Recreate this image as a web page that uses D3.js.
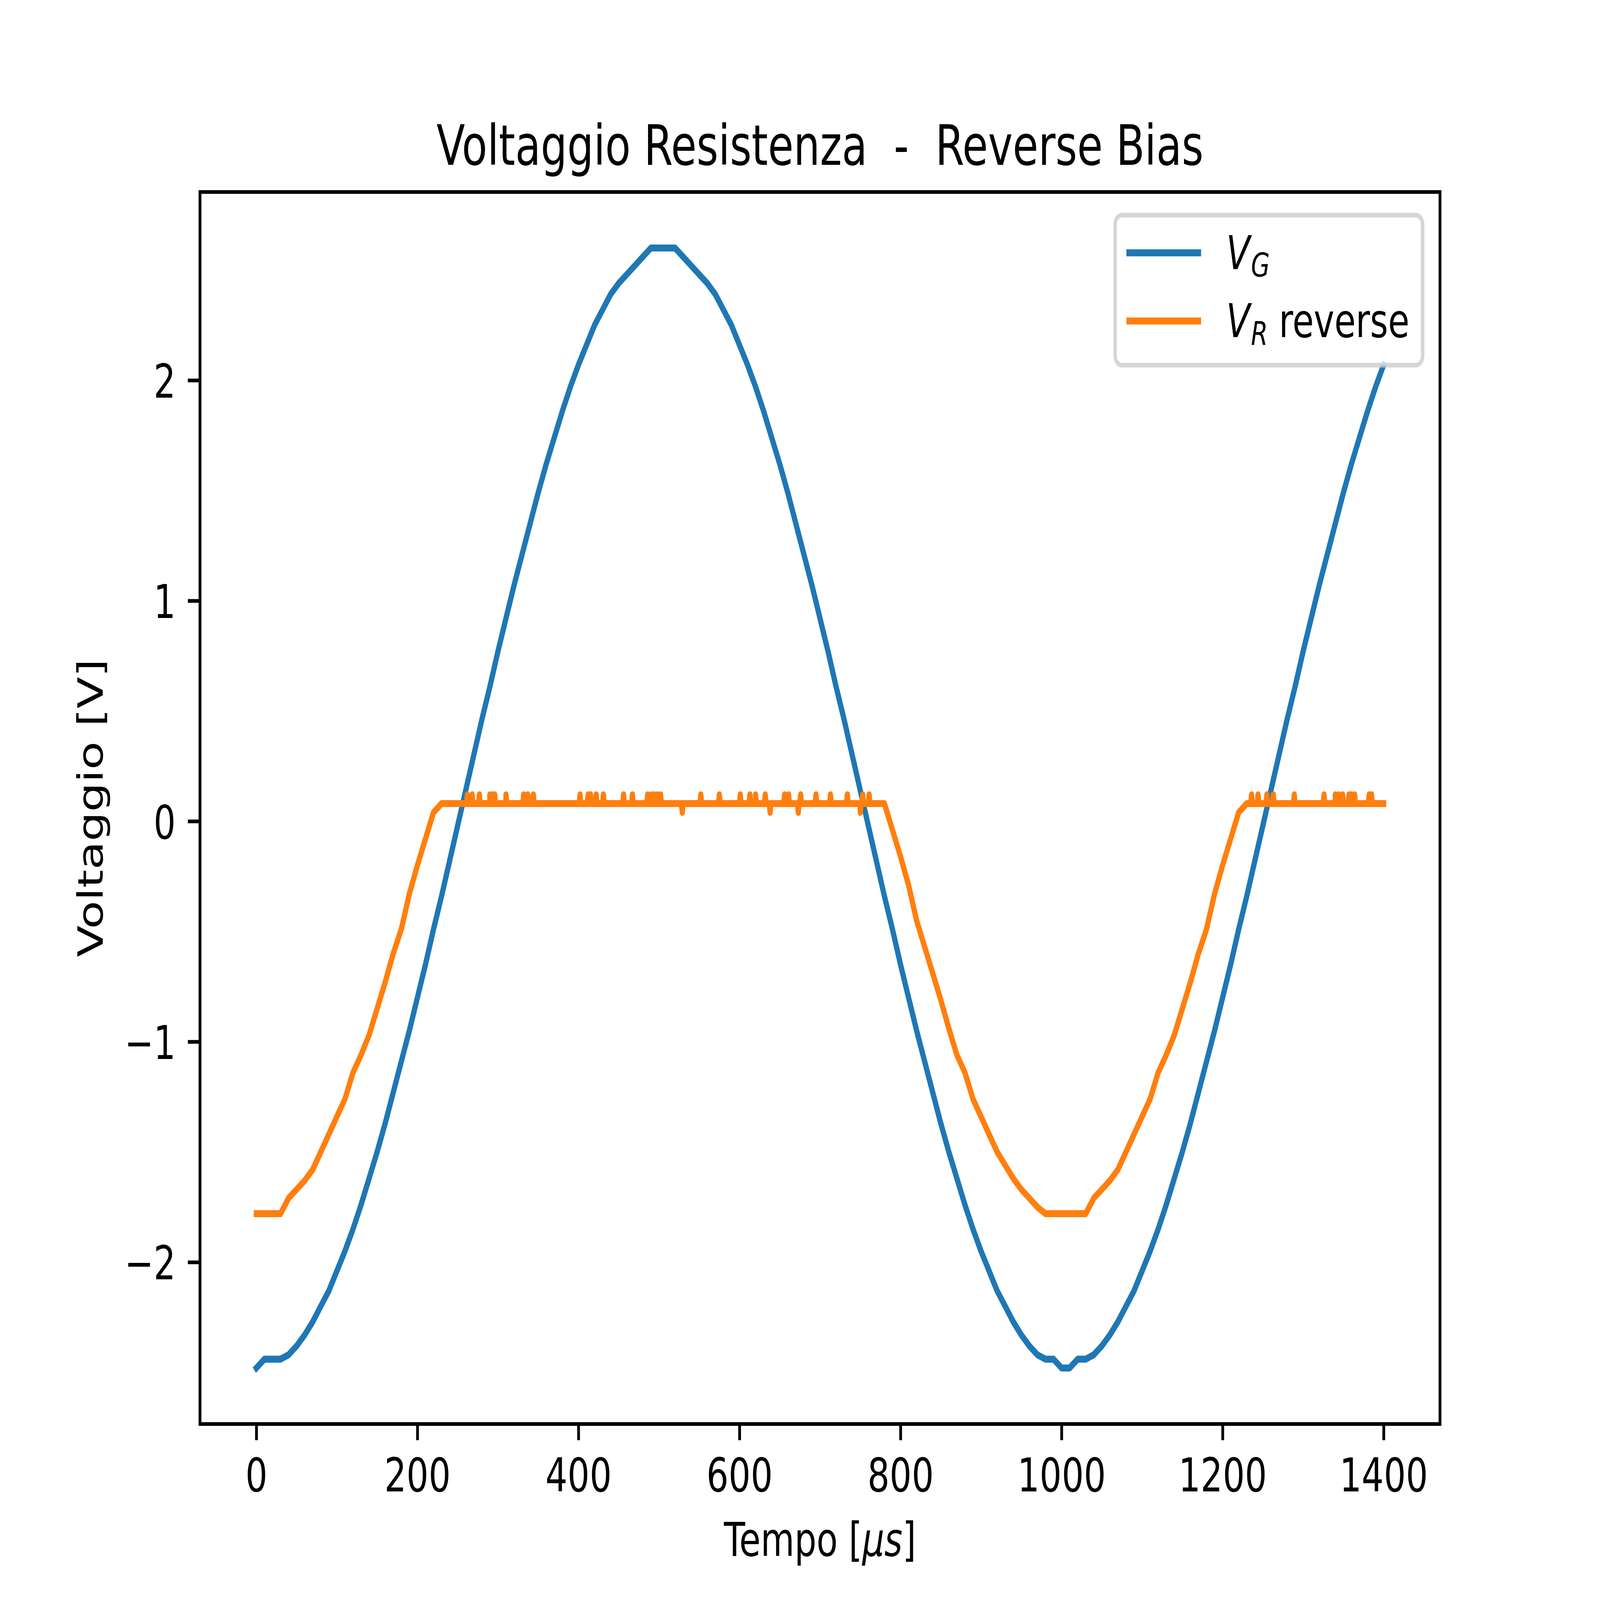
<!DOCTYPE html>
<html>
<head>
<meta charset="utf-8">
<script src="https://cdn.jsdelivr.net/npm/d3@7"></script>
<style>
  html, body { margin: 0; padding: 0; background: #fff; width: 100%; height: 100%; overflow: hidden; }
  #chart { display: block; width: 100vw; height: 100vh; }
  text { font-family: "DejaVu Sans"; white-space: pre; }
</style>
</head>
<body>
<svg id="chart"></svg>
<script>
// tempo in microseconds, one reading every 10 us
let tempo = [0,10,20,30,40,50,60,70,80,90,100,110,120,130,140,150,160,170,180,190,
  200,210,220,230,240,250,260,270,280,290,300,310,320,330,340,350,360,370,380,390,
  400,410,420,430,440,450,460,470,480,490,500,510,520,530,540,550,560,570,580,590,
  600,610,620,630,640,650,660,670,680,690,700,710,720,730,740,750,760,770,780,790,
  800,810,820,830,840,850,860,870,880,890,900,910,920,930,940,950,960,970,980,990,
  1000,1010,1020,1030,1040,1050,1060,1070,1080,1090,1100,1110,1120,1130,1140,1150,1160,1170,1180,1190,
  1200,1210,1220,1230,1240,1250,1260,1270,1280,1290,1300,1310,1320,1330,1340,1350,1360,1370,1380,1390,1400];

// V_G
let voltG = [-2.48,-2.44,-2.44,-2.44,-2.42,-2.38,-2.33,-2.27,-2.20,-2.13,-2.04,-1.95,-1.85,
  -1.74,-1.62,-1.50,-1.37,-1.23,-1.09,-0.95,-0.80,-0.65,-0.49,-0.34,-0.18,-0.02,
  0.14,0.30,0.46,0.61,0.77,0.92,1.07,1.21,1.35,1.49,1.62,1.74,1.86,
  1.97,2.07,2.16,2.25,2.32,2.39,2.44,2.48,2.52,2.56,2.60,2.60,2.60,2.60,
  2.56,2.52,2.48,2.44,2.39,2.32,2.25,2.16,2.07,1.97,1.86,1.74,1.62,
  1.49,1.35,1.21,1.07,0.92,0.77,0.61,0.46,0.30,0.14,-0.02,-0.18,-0.34,
  -0.49,-0.65,-0.80,-0.95,-1.09,-1.23,-1.37,-1.50,-1.62,-1.74,-1.85,-1.95,-2.04,
  -2.13,-2.20,-2.27,-2.33,-2.38,-2.42,-2.44,-2.44,-2.48,-2.48,-2.44,-2.44,
  -2.42,-2.38,-2.33,-2.27,-2.20,-2.13,-2.04,-1.95,-1.85,-1.74,-1.62,-1.50,-1.37,
  -1.23,-1.09,-0.95,-0.80,-0.65,-0.49,-0.34,-0.18,-0.02,0.14,0.30,0.46,0.61,
  0.77,0.92,1.07,1.21,1.35,1.49,1.62,1.74,1.86,1.97,2.07];

// V_R reverse
let voltR = [-1.78,-1.78,-1.78,-1.78,
  -1.71,-1.67,-1.63,-1.58,-1.50,-1.42,-1.34,-1.26,-1.14,-1.06,-0.97,-0.85,-0.73,-0.60,-0.49,-0.33,-0.20,-0.08,0.04,
  0.08,0.08,0.08,0.08,0.08,0.08,0.08,0.08,0.08,0.08,0.08,0.08,0.08,0.08,0.08,0.08,0.08,0.08,0.08,0.08,
  0.08,0.08,0.08,0.08,0.08,0.08,0.08,0.08,0.08,0.08,0.08,0.08,0.08,0.08,0.08,0.08,0.08,0.08,0.08,0.08,
  0.08,0.08,0.08,0.08,0.08,0.08,0.08,0.08,0.08,0.08,0.08,0.08,0.08,0.08,0.08,0.08,
  -0.04,-0.16,-0.29,-0.45,-0.57,-0.69,-0.81,-0.94,-1.06,-1.14,-1.26,-1.34,-1.42,-1.50,-1.56,-1.62,-1.67,-1.71,-1.75,
  -1.78,-1.78,-1.78,-1.78,-1.78,-1.78,
  -1.71,-1.67,-1.63,-1.58,-1.50,-1.42,-1.34,-1.26,-1.14,-1.06,-0.97,-0.85,-0.73,-0.60,-0.49,-0.33,-0.20,-0.08,0.04,
  0.08,0.08,0.08,0.08,0.08,0.08,0.08,0.08,0.08,0.08,0.08,0.08,0.08,0.08,0.08,0.08,0.08,0.08];

// single-sample glitches on the V_R plateau
let glitchTime = [262,268,277,290,293,296,310,332,337,344,402,412,415,422,431,456,467,486,491,494,498,502,
  529,552,575,601,613,620,632,638,656,661,673,676,695,713,734,750,753,761,
  1236,1244,1255,1263,1289,1326,1340,1344,1349,1357,1360,1364,1382,1385];
let glitchVolt = [0.12,0.12,0.12,0.12,0.12,0.12,0.12,0.12,0.12,0.12,0.12,0.12,0.12,0.12,0.12,0.12,0.12,0.12,0.12,0.12,0.12,0.12,
  0.04,0.12,0.12,0.12,0.12,0.12,0.12,0.04,0.12,0.12,0.04,0.12,0.12,0.12,0.12,0.04,0.12,0.12,
  0.12,0.12,0.12,0.12,0.12,0.12,0.12,0.12,0.12,0.12,0.12,0.12,0.12,0.12];
let plateauR = 0.08;

let xTicks = [0,200,400,600,800,1000,1200,1400];
let yTicks = [-2,-1,0,1,2];
let colorG = "#1f77b4";
let colorR = "#ff7f0e";

let W = 6400;
let H = 4800;
let pt = 1000 / 72;
let fs = 10 * pt;
let axL = 800, axR = 5760, axT = 576, axB = 4272;

let svg = d3.select("#chart")
            .attr("viewBox", `0 0 ${W} ${H}`)
            .attr("preserveAspectRatio", "none");

svg.append("rect")
   .attr("width", W)
   .attr("height", H)
   .attr("fill", "#fff");

let seriesG = tempo.map((t, i) => [t, voltG[i]]);
let seriesR = tempo.map((t, i) => [t, voltR[i]]);
glitchTime.forEach((t, i) => {
    seriesR.push([t - 1, plateauR], [t, glitchVolt[i]], [t + 1, plateauR]);
});
seriesR.sort((a, b) => a[0] - b[0]);

let tMin = d3.min(tempo), tMax = d3.max(tempo);
let allV = voltG.concat(voltR, glitchVolt);
let vMin = d3.min(allV), vMax = d3.max(allV);

let xScale = d3.scaleLinear()
               .domain([tMin - 0.05 * (tMax - tMin), tMax + 0.05 * (tMax - tMin)])
               .range([axL, axR]);
let yScale = d3.scaleLinear()
               .domain([vMin - 0.05 * (vMax - vMin), vMax + 0.05 * (vMax - vMin)])
               .range([axB, axT]);

svg.append("clipPath")
   .attr("id", "plotArea")
   .append("rect")
   .attr("x", axL)
   .attr("y", axT)
   .attr("width", axR - axL)
   .attr("height", axB - axT);

let line = d3.line()
             .x((d) => xScale(d[0]))
             .y((d) => yScale(d[1]));

let plot = svg.append("g").attr("clip-path", "url(#plotArea)");
[[seriesG, colorG], [seriesR, colorR]].forEach(([data, color]) => {
    plot.append("path")
        .datum(data)
        .attr("d", line)
        .attr("fill", "none")
        .attr("stroke", color)
        .attr("stroke-width", 1.5 * pt)
        .attr("stroke-linejoin", "round")
        .attr("stroke-linecap", "square");
});

// axes
let xAxis = d3.axisBottom(xScale)
              .tickValues(xTicks)
              .tickSize(3.5 * pt)
              .tickPadding(55)
              .tickFormat(d3.format("d"));
let yAxis = d3.axisLeft(yScale)
              .tickValues(yTicks)
              .tickSize(3.5 * pt)
              .tickPadding(3.5 * pt)
              .tickFormat((d) => d < 0 ? "\u2212" + (-d) : String(d));

let gx = svg.append("g")
            .attr("transform", `translate(0, ${axB})`)
            .call(xAxis);
let gy = svg.append("g")
            .attr("transform", `translate(${axL}, 0)`)
            .call(yAxis);

[gx, gy].forEach((g) => {
    g.attr("font-size", fs).attr("font-family", "DejaVu Sans");
    g.select(".domain").remove();
    g.selectAll(".tick line").attr("stroke", "#000").attr("stroke-width", 0.8 * pt);
    g.selectAll(".tick text").attr("fill", "#000");
});
gy.selectAll(".tick text").attr("dy", "0.37em");

svg.append("rect")
   .attr("x", axL)
   .attr("y", axT)
   .attr("width", axR - axL)
   .attr("height", axB - axT)
   .attr("fill", "none")
   .attr("stroke", "#000")
   .attr("stroke-width", 0.8 * pt);

// titles
svg.append("text")
   .attr("x", (axL + axR) / 2)
   .attr("y", 495)
   .attr("text-anchor", "middle")
   .attr("font-size", 12 * pt)
   .text("Voltaggio Resistenza  -  Reverse Bias");

let xLabel = svg.append("text")
                .attr("x", (axL + axR) / 2)
                .attr("y", 4668)
                .attr("text-anchor", "middle")
                .attr("font-size", fs);
xLabel.append("tspan").text("Tempo [");
xLabel.append("tspan").attr("font-style", "italic").text("\u03bcs");
xLabel.append("tspan").text("]");

svg.append("text")
   .attr("transform", `translate(411, ${(axT + axB) / 2}) rotate(-90)`)
   .attr("text-anchor", "middle")
   .attr("font-size", fs)
   .text("Voltaggio [V]");

// legend
let legendItems = [
    { sub: "G", rest: "", color: colorG },
    { sub: "R", rest: " reverse", color: colorR }
];
let boxW = 1230, boxH = 450;
let boxX = axR - 0.5 * fs - boxW;
let boxY = axT + 0.5 * fs;
let legend = svg.append("g");
legend.append("rect")
      .attr("x", boxX)
      .attr("y", boxY)
      .attr("width", boxW)
      .attr("height", boxH)
      .attr("rx", 0.2 * fs)
      .attr("fill", "#fff")
      .attr("fill-opacity", 0.8)
      .attr("stroke", "#cccccc")
      .attr("stroke-opacity", 0.8)
      .attr("stroke-width", 1 * pt);

let handleX = boxX + 0.4 * fs;
let handleLen = 2 * fs;
let textX = handleX + handleLen + 0.8 * fs;
legendItems.forEach((d, i) => {
    let lineY = 758.5 + i * 204.5;
    legend.append("line")
          .attr("x1", handleX)
          .attr("x2", handleX + handleLen)
          .attr("y1", lineY)
          .attr("y2", lineY)
          .attr("stroke", d.color)
          .attr("stroke-width", 1.5 * pt)
          .attr("stroke-linecap", "square");
    let t = legend.append("text")
                  .attr("x", textX)
                  .attr("y", lineY + 48.5)
                  .attr("font-size", fs);
    t.append("tspan").attr("font-style", "italic").text("V");
    t.append("tspan")
     .attr("font-style", "italic")
     .attr("font-size", 0.7 * fs)
     .attr("dx", 4)
     .attr("dy", 23)
     .text(d.sub);
    if (d.rest) {
        t.append("tspan").attr("dy", -23).text(d.rest);
    }
});
</script>
</body>
</html>
